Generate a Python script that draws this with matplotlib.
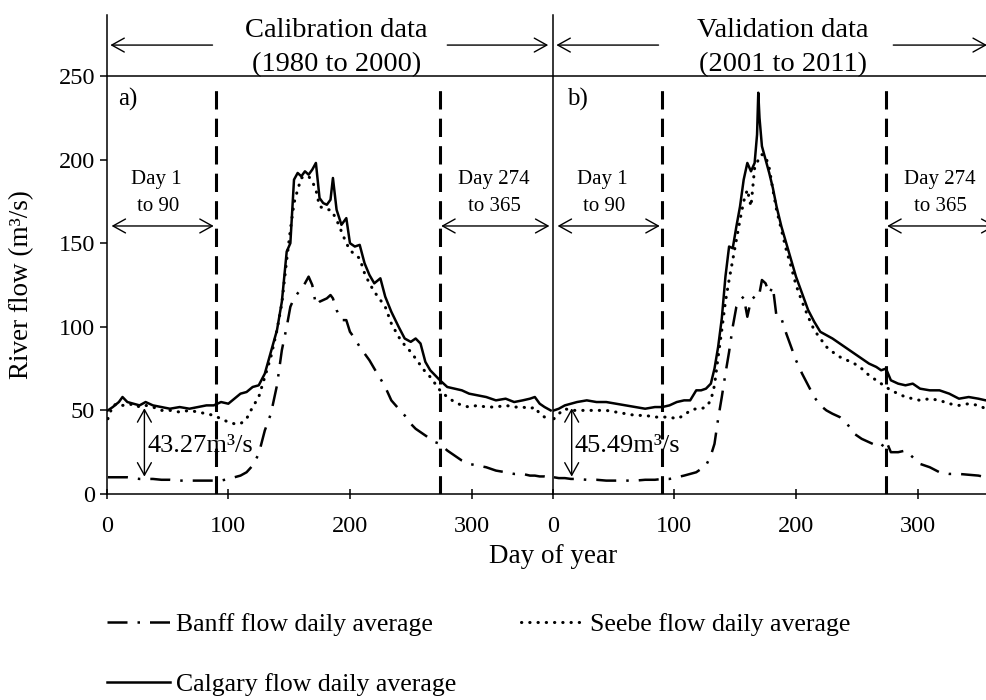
import matplotlib.pyplot as plt

plt.rcParams['font.family'] = 'Liberation Serif'

# (a) calibration period, day of year
cal_day = [1, 5, 10, 13, 17, 22, 27, 32, 38, 45, 52, 60, 68, 75, 82, 88, 94, 100,
           105, 110, 115, 120, 125, 130, 135, 140, 144, 148, 151, 154, 157, 160,
           163, 166, 169, 172, 175, 178, 181, 184, 186, 189, 193, 197, 200, 204,
           208, 212, 216, 220, 225, 229, 234, 240, 245, 250, 254, 258, 262, 266,
           270, 274, 280, 286, 292, 298, 305, 312, 320, 328, 335, 342, 348, 352,
           356, 360, 365]
cal_calgary = [50, 52, 55, 58, 55, 54, 53, 55, 53, 52, 51, 52, 51, 52, 53, 53, 55, 54,
               57, 60, 61, 64, 65, 72, 85, 98, 115, 145, 150, 188, 192, 190,
               193, 191, 194, 198, 177, 174, 173, 176, 189, 170, 161, 165, 150, 148,
               149, 138, 131, 126, 129, 118, 109, 100, 93, 91, 93, 90, 79, 74,
               71, 68, 64, 63, 62, 60, 59, 58, 56, 57, 55, 56, 57, 58,
               54, 52, 50]
cal_seebe = [45, 53, 54, 53, 53, 54, 52, 53, 52, 50, 50, 49, 50, 49, 48, 47, 45, 43,
             42, 42, 45, 52, 58, 70, 82, 98, 114, 140, 158, 174, 182, 189,
             190, 190, 187, 182, 172, 171, 170, 170, 168, 164, 157, 150, 146, 143,
             141, 132, 126, 121, 116, 112, 102, 94, 89, 85, 81, 77, 73, 70,
             66, 62, 58, 55, 53, 52, 53, 52, 52, 53, 52, 52, 51, 52,
             48, 46, 45]
cal_banff = [10, 10, 10, 10, 10, 9.5, 9, 9, 9, 8.5, 8.5, 8, 8, 8, 8, 8, 8, 9,
             10, 11, 13, 17, 24, 38, 48, 65, 86, 100, 112, 117, 120, 123,
             126, 130, 125, 113, 115, 116, 117, 119, 117, 110, 104, 104, 97, 93,
             88, 84, 80, 75, 69, 64, 56, 51, 47, 42, 39, 37, 35, 33,
             31, 30, 26, 23, 20, 18, 17, 16, 14, 13, 12, 12, 11, 11,
             10.5, 10.5, 10]

# (b) validation period
val_day = [1, 5, 10, 15, 20, 28, 36, 44, 52, 60, 68, 76, 84, 90, 96, 102, 108, 113,
           118, 122, 126, 130, 133, 136, 139, 142, 145, 148, 151, 154, 157, 160,
           163, 166, 168, 169, 170, 172, 175, 178, 181, 184, 188, 192, 196, 200,
           205, 210, 215, 220, 225, 230, 236, 242, 248, 254, 260, 266, 270, 274,
           278, 284, 290, 296, 302, 310, 318, 326, 334, 342, 350, 356, 360, 365]
val_calgary = [50, 51, 53, 54, 55, 56, 55, 55, 54, 53, 52, 51, 52, 52, 53, 55, 56, 56,
               62, 62, 63, 66, 75, 88, 105, 130, 148, 147, 160, 172, 188, 198,
               193, 198, 215, 240, 225, 208, 200, 192, 183, 172, 160, 150, 140, 130,
               120, 110, 103, 97, 95, 93, 90, 87, 84, 81, 78, 76, 74, 75,
               68, 66, 65, 66, 63, 62, 62, 60, 57, 58, 57, 56, 57, 55]
val_seebe = [45, 48, 51, 50, 50, 50, 50, 50, 49, 48, 47, 47, 46, 46, 46, 45, 47, 50,
             51, 51, 52, 56, 65, 82, 98, 115, 128, 140, 152, 164, 175, 182,
             172, 195, 198, 200, 202, 203, 202, 195, 182, 170, 158, 146, 136, 125,
             115, 106, 98, 93, 88, 85, 82, 80, 78, 75, 71, 68, 66, 64,
             62, 60, 58, 57, 56, 57, 56, 54, 53, 54, 53, 51, 50, 49]
val_banff = [10, 9.5, 9.5, 9, 9, 8.5, 8.5, 8, 8, 8, 8, 8.5, 8.5, 9, 9, 10, 11, 12,
             13, 15, 17, 23, 30, 45, 58, 72, 85, 100, 112, 116, 118, 106,
             116, 118, 120, 121, 120, 128, 126, 120, 124, 106, 105, 96, 88, 80,
             72, 65, 58, 53, 50, 48, 46, 42, 36, 33, 31, 29, 28, 32,
             25, 25, 26, 22, 18, 16, 13, 12, 12, 11.5, 11, 10, 10, 10]

period_names = ['Calibration data', 'Validation data']
period_years = ['(1980 to 2000)', '(2001 to 2011)']
panel_tags = ['a)', 'b)']
gap_labels = ['43.27m³/s', '45.49m³/s']
season_split = [90, 274]

BANFF_LS = (0, (8, 4, 1, 4))
SEEBE_LS = (0, (0.1, 2.6))

fig = plt.figure(figsize=(9.87, 7), dpi=100)
ax_a = fig.add_axes([0.1081, 0.2943, 0.4519, 0.6843])
ax_b = fig.add_axes([0.5600, 0.2943, 0.4519, 0.6843])

panels = [
    (ax_a, cal_day, cal_banff, cal_seebe, cal_calgary),
    (ax_b, val_day, val_banff, val_seebe, val_calgary),
]

arrow_kw = dict(arrowstyle='->, head_length=0.45, head_width=0.25',
                mutation_scale=20, lw=1.0, color='black', shrinkA=0, shrinkB=0)
both_kw = dict(arrow_kw, arrowstyle='<->, head_length=0.45, head_width=0.25')

for i, (ax, day, banff, seebe, calgary) in enumerate(panels):
    ax.plot(day, banff, color='black', lw=1.8, ls=BANFF_LS, label='Banff flow daily average')
    ax.plot(day, seebe, color='black', lw=2.2, ls=SEEBE_LS, label='Seebe flow daily average',
            dash_capstyle='round')
    ax.plot(day, calgary, color='black', lw=1.8, label='Calgary flow daily average')

    for d in season_split:
        ax.plot([d, d], [0, 244], color='black', lw=2.2, ls=(0, (6, 3)))

    ax.axhline(250, color='black', lw=1.1)
    ax.set_xlim(0, 366.7)
    ax.set_ylim(0, 286.5)
    ax.set_xticks([0, 100, 200, 300])
    ax.spines[['top', 'right']].set_visible(False)
    ax.spines[['left', 'bottom']].set_linewidth(1.1)
    ax.tick_params(axis='x', direction='inout', length=7, width=1.1, labelsize=17.5, pad=12)

    # header over the panel
    ax.text(189, 277.5, period_names[i], ha='center', va='center', fontsize=20.5)
    ax.text(189, 256.8, period_years[i], ha='center', va='center', fontsize=20.5)
    ax.annotate('', xy=(3, 268.5), xytext=(87, 268.5), arrowprops=arrow_kw)
    ax.annotate('', xy=(363 if i == 0 else 357, 268.5), xytext=(280, 268.5),
                arrowprops=arrow_kw, annotation_clip=False)

    ax.text(9 if i == 0 else 12, 236, panel_tags[i], ha='left', va='center', fontsize=18)

    # seasonal windows
    ax.text(41, 188, 'Day 1', ha='center', va='center', fontsize=15)
    ax.text(42, 172, 'to 90', ha='center', va='center', fontsize=15)
    ax.annotate('', xy=(4, 160.3), xytext=(88, 160.3), arrowprops=both_kw)
    ax.text(318, 188, 'Day 274', ha='center', va='center', fontsize=15)
    ax.text(319, 172, 'to 365', ha='center', va='center', fontsize=15)
    ax.annotate('', xy=(275, 160.3), xytext=(364, 160.3), arrowprops=both_kw,
                annotation_clip=False)

    # gap between Banff and Calgary baseflow
    gx = 31 if i == 0 else 15.6
    ax.annotate('', xy=(gx, 10.4), xytext=(gx, 51.3), arrowprops=both_kw)
    ax.text(gx + 2.5, 29, gap_labels[i], ha='left', va='center', fontsize=19)

ax_a.set_yticks([0, 50, 100, 150, 200, 250])
ax_a.tick_params(axis='y', direction='out', length=5, width=1.1, labelsize=17.5, pad=3.5)
ax_b.tick_params(axis='y', left=False, labelleft=False)

fig.text(0.5603, 0.2043, 'Day of year', ha='center', va='center', fontsize=19.5)
fig.text(0.0223, 0.593, 'River flow (m³/s)', ha='center', va='center', rotation=90,
         fontsize=19.5)

h, l = ax_a.get_legend_handles_labels()
fig.legend([h[0], h[2], h[1]], [l[0], l[2], l[1]], ncol=2, loc='upper left',
           bbox_to_anchor=(0.1084, 0.124), frameon=False, fontsize=18.5,
           handlelength=2.45, handletextpad=0.25, columnspacing=2.5,
           labelspacing=1.45, borderpad=0, borderaxespad=0)

fig.savefig('out.png', dpi=100)
